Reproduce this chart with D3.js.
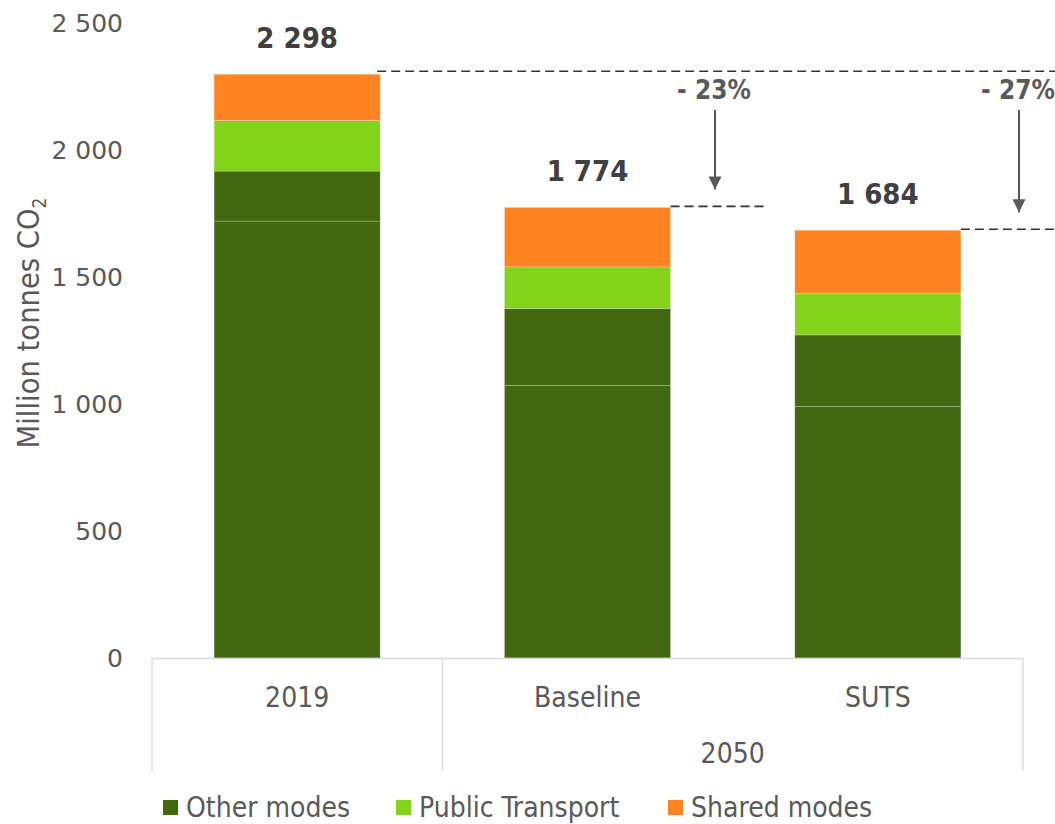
<!DOCTYPE html>
<html>
<head>
<meta charset="utf-8">
<script src="https://cdn.jsdelivr.net/npm/d3@7"></script>
<style>
  html, body { margin: 0; padding: 0; background: #fff; }
  svg { display: block; }
</style>
</head>
<body>
<svg id="chart" width="1055" height="824"></svg>
<script>
// ---- data ----
const categories = ["2019", "Baseline", "SUTS"];
const groupLabels = [{ label: "2050", members: ["Baseline", "SUTS"] }];
const otherModesLower = [1720, 1073, 990];
const otherModesUpper = [197, 303, 282];
const publicTransport = [199, 164, 163];
const sharedModes = [182, 234, 249];
const totals = [2298, 1774, 1684];
const totalLabels = ["2 298", "1 774", "1 684"];
const changeLabels = [null, "- 23%", "- 27%"];
const yTicks = [0, 500, 1000, 1500, 2000, 2500];
const yTickLabels = ["0", "500", "1 000", "1 500", "2 000", "2 500"];
const legendNames = ["Other modes", "Public Transport", "Shared modes"];

const colDark = "#41680f", colLight = "#83d31b", colOrange = "#ff8321";
const textCol = "#595959", boldCol = "#404040";
const condFont = "'DejaVu Sans Condensed', 'DejaVu Sans', sans-serif";

const svg = d3.select("#chart");
const x = d3.scaleBand().domain(categories).range([152, 1023]).paddingInner(0.428).paddingOuter(0.214);
const slot = d3.scaleBand().domain(categories).range([152, 1023]).padding(0);
const y = d3.scaleLinear().domain([0, 2500]).range([658, 23]);

const seriesDefs = [
  { key: "otherLower", values: otherModesLower, color: colDark },
  { key: "otherUpper", values: otherModesUpper, color: colDark },
  { key: "pt", values: publicTransport, color: colLight },
  { key: "shared", values: sharedModes, color: colOrange }
];
const rows = categories.map((c, i) => {
  const r = { cat: c };
  seriesDefs.forEach(s => r[s.key] = s.values[i]);
  return r;
});
const stack = d3.stack().keys(seriesDefs.map(s => s.key))(rows);

// bars
stack.forEach((layer, li) => {
  svg.append("g").selectAll("rect").data(layer).join("rect")
    .attr("x", d => x(d.data.cat))
    .attr("width", x.bandwidth())
    .attr("y", d => y(d[1]))
    .attr("height", d => y(d[0]) - y(d[1]))
    .attr("fill", seriesDefs[li].color)
    .attr("stroke", "rgba(255,255,255,0.22)")
    .attr("stroke-width", 1);
});

// x axis lines
const axisCol = "#d9d9d9";
const ax = svg.append("g").attr("stroke", axisCol).attr("stroke-width", 1.3).attr("fill", "none");
ax.append("line").attr("x1", 152).attr("x2", 1023).attr("y1", y(0) + 0.5).attr("y2", y(0) + 0.5);
const dividers = [slot("2019"), slot("Baseline"), slot("SUTS") + slot.bandwidth()];
dividers.forEach(dx => ax.append("line").attr("x1", dx).attr("x2", dx).attr("y1", y(0)).attr("y2", 771));

// category labels
svg.append("g").selectAll("text").data(categories).join("text")
  .attr("x", d => slot(d) + slot.bandwidth() / 2)
  .attr("y", 707)
  .attr("text-anchor", "middle")
  .attr("font-family", condFont)
  .attr("font-stretch", "condensed")
  .attr("font-size", 28)
  .attr("fill", textCol)
  .text(d => d);

groupLabels.forEach(g => {
  const x0 = slot(g.members[0]);
  const x1 = slot(g.members[g.members.length - 1]) + slot.bandwidth();
  svg.append("text")
    .attr("x", (x0 + x1) / 2)
    .attr("y", 763)
    .attr("text-anchor", "middle")
    .attr("font-family", condFont)
    .attr("font-stretch", "condensed")
    .attr("font-size", 28)
    .attr("fill", textCol)
    .text(g.label);
});

// y tick labels
svg.append("g").selectAll("text").data(yTicks).join("text")
  .attr("x", 123)
  .attr("y", d => y(d))
  .attr("dy", "0.36em")
  .attr("text-anchor", "end")
  .attr("font-family", "'DejaVu Sans', sans-serif")
  .attr("font-size", 25)
  .attr("fill", textCol)
  .text((d, i) => yTickLabels[i]);

// y axis title
const yt = svg.append("text")
  .attr("transform", "translate(39," + 323 + ") rotate(-90)")
  .attr("text-anchor", "middle")
  .attr("font-family", condFont)
  .attr("font-stretch", "condensed")
  .attr("font-size", 30.5)
  .attr("fill", textCol);
yt.append("tspan").text("Million tonnes CO");
yt.append("tspan").attr("font-size", 19).attr("dy", 7).text("2");

// total labels
svg.append("g").selectAll("text").data(categories).join("text")
  .attr("x", d => x(d) + x.bandwidth() / 2)
  .attr("y", (d, i) => y(totals[i]) - 26)
  .attr("text-anchor", "middle")
  .attr("font-family", condFont)
  .attr("font-stretch", "condensed")
  .attr("font-weight", "bold")
  .attr("font-size", 29)
  .attr("fill", boldCol)
  .text((d, i) => totalLabels[i]);

// reference dashed lines and change arrows
const dashCol = "#333333";
const refY = y(totals[0]) - 3;
svg.append("line")
  .attr("x1", x("2019") + x.bandwidth() - 3).attr("x2", 1055)
  .attr("y1", refY).attr("y2", refY)
  .attr("stroke", dashCol).attr("stroke-width", 1.6).attr("stroke-dasharray", "9,5");

svg.append("defs").append("marker")
  .attr("id", "arr").attr("viewBox", "0 0 10 10")
  .attr("refX", 10).attr("refY", 5)
  .attr("markerWidth", 16).attr("markerHeight", 13)
  .attr("markerUnits", "userSpaceOnUse")
  .attr("orient", "auto")
  .append("path").attr("d", "M0,0 L10,5 L0,10 Z").attr("fill", "#595959");

const arrowX = { "Baseline": 715, "SUTS": 1019 };
categories.forEach((c, i) => {
  if (!changeLabels[i]) return;
  const xr = x(c) + x.bandwidth();
  const ly = y(totals[i]) - 1;
  svg.append("line")
    .attr("x1", xr).attr("x2", i === 1 ? 765 : 1055)
    .attr("y1", ly).attr("y2", ly)
    .attr("stroke", dashCol).attr("stroke-width", 1.6).attr("stroke-dasharray", "9,5");
  const ax0 = arrowX[c];
  svg.append("line")
    .attr("x1", ax0).attr("x2", ax0)
    .attr("y1", 110).attr("y2", ly - 17)
    .attr("stroke", "#595959").attr("stroke-width", 2)
    .attr("marker-end", "url(#arr)");
  svg.append("text")
    .attr("x", ax0 - 1)
    .attr("y", 99)
    .attr("text-anchor", "middle")
    .attr("font-family", condFont)
    .attr("font-stretch", "condensed")
    .attr("font-weight", "bold")
    .attr("font-size", 26)
    .attr("fill", "#595959")
    .text(changeLabels[i]);
});

// legend
const legendColors = [colDark, colLight, colOrange];
const legendX = [163, 396, 668];
const lg = svg.append("g");
legendNames.forEach((n, i) => {
  lg.append("rect").attr("x", legendX[i]).attr("y", 800).attr("width", 15).attr("height", 15).attr("fill", legendColors[i]);
  lg.append("text")
    .attr("x", legendX[i] + 23).attr("y", 817)
    .attr("font-family", condFont)
    .attr("font-stretch", "condensed")
    .attr("font-size", 28)
    .attr("fill", textCol)
    .text(n);
});
</script>
</body>
</html>
